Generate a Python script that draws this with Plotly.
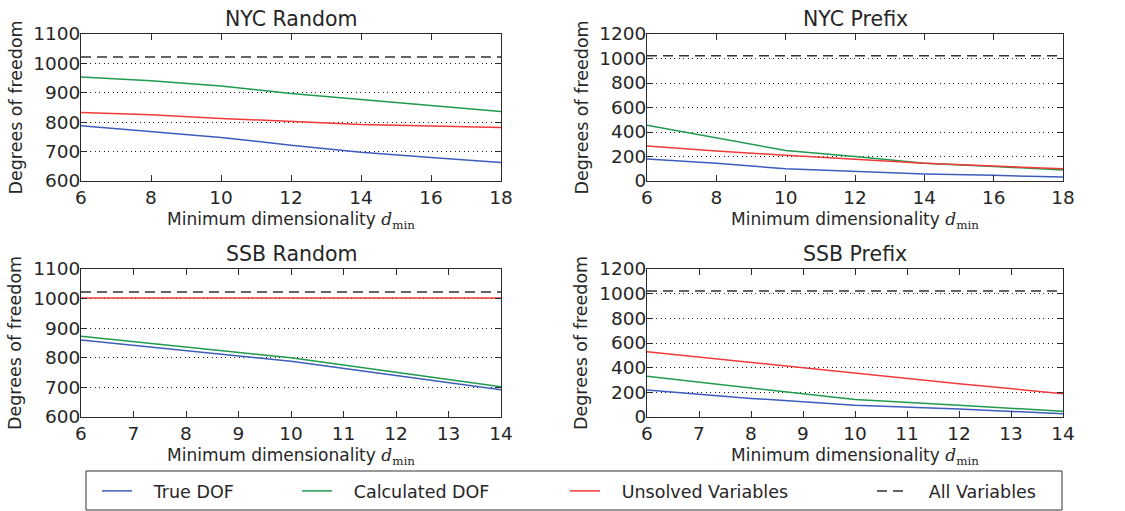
import plotly.graph_objects as go

# Minimum dimensionality values swept for each dataset
nyc_dmin = [6, 8, 10, 12, 14, 16, 18]
ssb_dmin = [6, 8, 10, 12, 14]

# NYC, random ordering
nyc_random_true = [788, 767, 748, 722, 698, 680, 663]
nyc_random_calc = [954, 941, 923, 898, 877, 856, 836]
nyc_random_unsolved = [833, 825, 813, 802, 792, 787, 782]

# NYC, prefix ordering
nyc_prefix_true = [179, 144, 100, 76, 57, 46, 33]
nyc_prefix_calc = [455, 355, 249, 200, 144, 119, 89]
nyc_prefix_unsolved = [285, 244, 211, 176, 144, 122, 100]

# SSB, random ordering
ssb_random_true = [860, 824, 788, 740, 692]
ssb_random_calc = [873, 836, 800, 751, 702]
ssb_random_unsolved = [1002, 1002, 1002, 1002, 1002]

# SSB, prefix ordering
ssb_prefix_true = [219, 151, 95, 65, 27]
ssb_prefix_calc = [330, 235, 141, 95, 46]
ssb_prefix_unsolved = [530, 443, 357, 270, 189]

# Total number of variables
all_variables = 1022

series_names = ["True DOF", "Calculated DOF", "Unsolved Variables", "All Variables"]
panel_titles = ["NYC Random", "NYC Prefix", "SSB Random", "SSB Prefix"]

W, H = 1125, 511
FONT = "DejaVu Sans"
TXT = "#262626"
BLUE, GREEN, RED, DASH = "#3d5dbd", "#1f9a4e", "#f03a3a", "#333333"
PAD = "\u00a0\u00a0\u00a0"  # gap between legend sample and label


def px_x(p):
    return p / W


def px_y(p):
    return 1 - p / H


# plot areas in pixels: (left, right, top, bottom)
areas = [
    (81, 501, 34, 181),
    (647, 1063, 34, 181),
    (81, 501, 269, 417),
    (647, 1063, 269, 417),
]

panels = [
    (nyc_dmin, nyc_random_true, nyc_random_calc, nyc_random_unsolved, [600, 1100], 100, 2),
    (nyc_dmin, nyc_prefix_true, nyc_prefix_calc, nyc_prefix_unsolved, [0, 1200], 200, 2),
    (ssb_dmin, ssb_random_true, ssb_random_calc, ssb_random_unsolved, [600, 1100], 100, 1),
    (ssb_dmin, ssb_prefix_true, ssb_prefix_calc, ssb_prefix_unsolved, [0, 1200], 200, 1),
]

# legend anchor (left edge of each entry), pixels
legend_x = [97, 297, 565, 872]

fig = go.Figure()
layout = dict(
    width=W, height=H,
    margin=dict(l=0, r=0, t=0, b=0, autoexpand=False),
    paper_bgcolor="white", plot_bgcolor="white",
    font=dict(family=FONT, size=17, color=TXT),
    annotations=[], shapes=[],
)

axis_common = dict(
    showline=True, linecolor="#2b2b2b", linewidth=1, mirror="allticks",
    ticks="inside", ticklen=6, tickwidth=1, tickcolor="#2b2b2b",
    tickfont=dict(family=FONT, size=18.5, color=TXT),
    zeroline=False, automargin=False,
)

for i, (xs, tru, calc, uns, yr, ydt, xdt) in enumerate(panels):
    k = "" if i == 0 else str(i + 1)
    xa, ya = "x" + k, "y" + k
    l, r, t, b = areas[i]
    layout["xaxis" + k] = dict(
        axis_common, domain=[px_x(l), px_x(r)], anchor=ya,
        range=[xs[0], xs[-1]], dtick=xdt, tick0=xs[0], showgrid=False,
    )
    layout["yaxis" + k] = dict(
        axis_common, domain=[px_y(b), px_y(t)], anchor=xa,
        range=yr, dtick=ydt, showgrid=True, gridcolor="#1a1a1a",
        gridwidth=1, griddash="1px,3.5px", ticklabelstandoff=-4,
    )
    first = i == 0
    for j, (vals, col) in enumerate([(tru, BLUE), (calc, GREEN), (uns, RED)]):
        fig.add_trace(go.Scatter(
            x=xs, y=vals, mode="lines", name=PAD + series_names[j],
            line=dict(color=col, width=1.5), xaxis=xa, yaxis=ya,
            showlegend=first, legend="legend" if j == 0 else "legend%d" % (j + 1),
        ))
    fig.add_trace(go.Scatter(
        x=[xs[0], xs[-1]], y=[all_variables, all_variables], mode="lines",
        name=PAD + series_names[3], line=dict(color=DASH, width=1.5, dash="10px,6px"),
        xaxis=xa, yaxis=ya, showlegend=first, legend="legend4",
    ))

    cx = px_x((l + r) / 2)
    layout["annotations"].append(dict(
        text=panel_titles[i], x=cx, y=px_y(t - 15), xref="paper", yref="paper",
        xanchor="center", yanchor="middle", showarrow=False,
        font=dict(family=FONT, size=20.5, color=TXT),
    ))
    layout["annotations"].append(dict(
        text="Minimum dimensionality <span style=\"font-family:'DejaVu Serif'\"><i>d</i><sub>min</sub></span>",
        x=cx, y=px_y(b + 39), xref="paper", yref="paper",
        xanchor="center", yanchor="middle", showarrow=False,
        font=dict(family=FONT, size=17, color=TXT),
    ))
    layout["annotations"].append(dict(
        text="Degrees of freedom", x=px_x(l - 66), y=px_y((t + b) / 2),
        xref="paper", yref="paper", xanchor="center", yanchor="middle",
        textangle=-90, showarrow=False,
        font=dict(family=FONT, size=17.5, color=TXT),
    ))

# legend entries
for j in range(4):
    key = "legend" if j == 0 else "legend%d" % (j + 1)
    layout[key] = dict(
        x=px_x(legend_x[j]), y=px_y(491), xanchor="left", yanchor="middle",
        orientation="h", bgcolor="rgba(0,0,0,0)", borderwidth=0,
        font=dict(family=FONT, size=17.5, color=TXT), itemwidth=30,
    )

# legend frame
layout["shapes"].append(dict(
    type="rect", xref="paper", yref="paper",
    x0=px_x(86), x1=px_x(1062), y0=px_y(510), y1=px_y(471),
    line=dict(color="#333333", width=1), fillcolor="rgba(0,0,0,0)",
))

fig.update_layout(**layout)
fig.write_html("out.html")
